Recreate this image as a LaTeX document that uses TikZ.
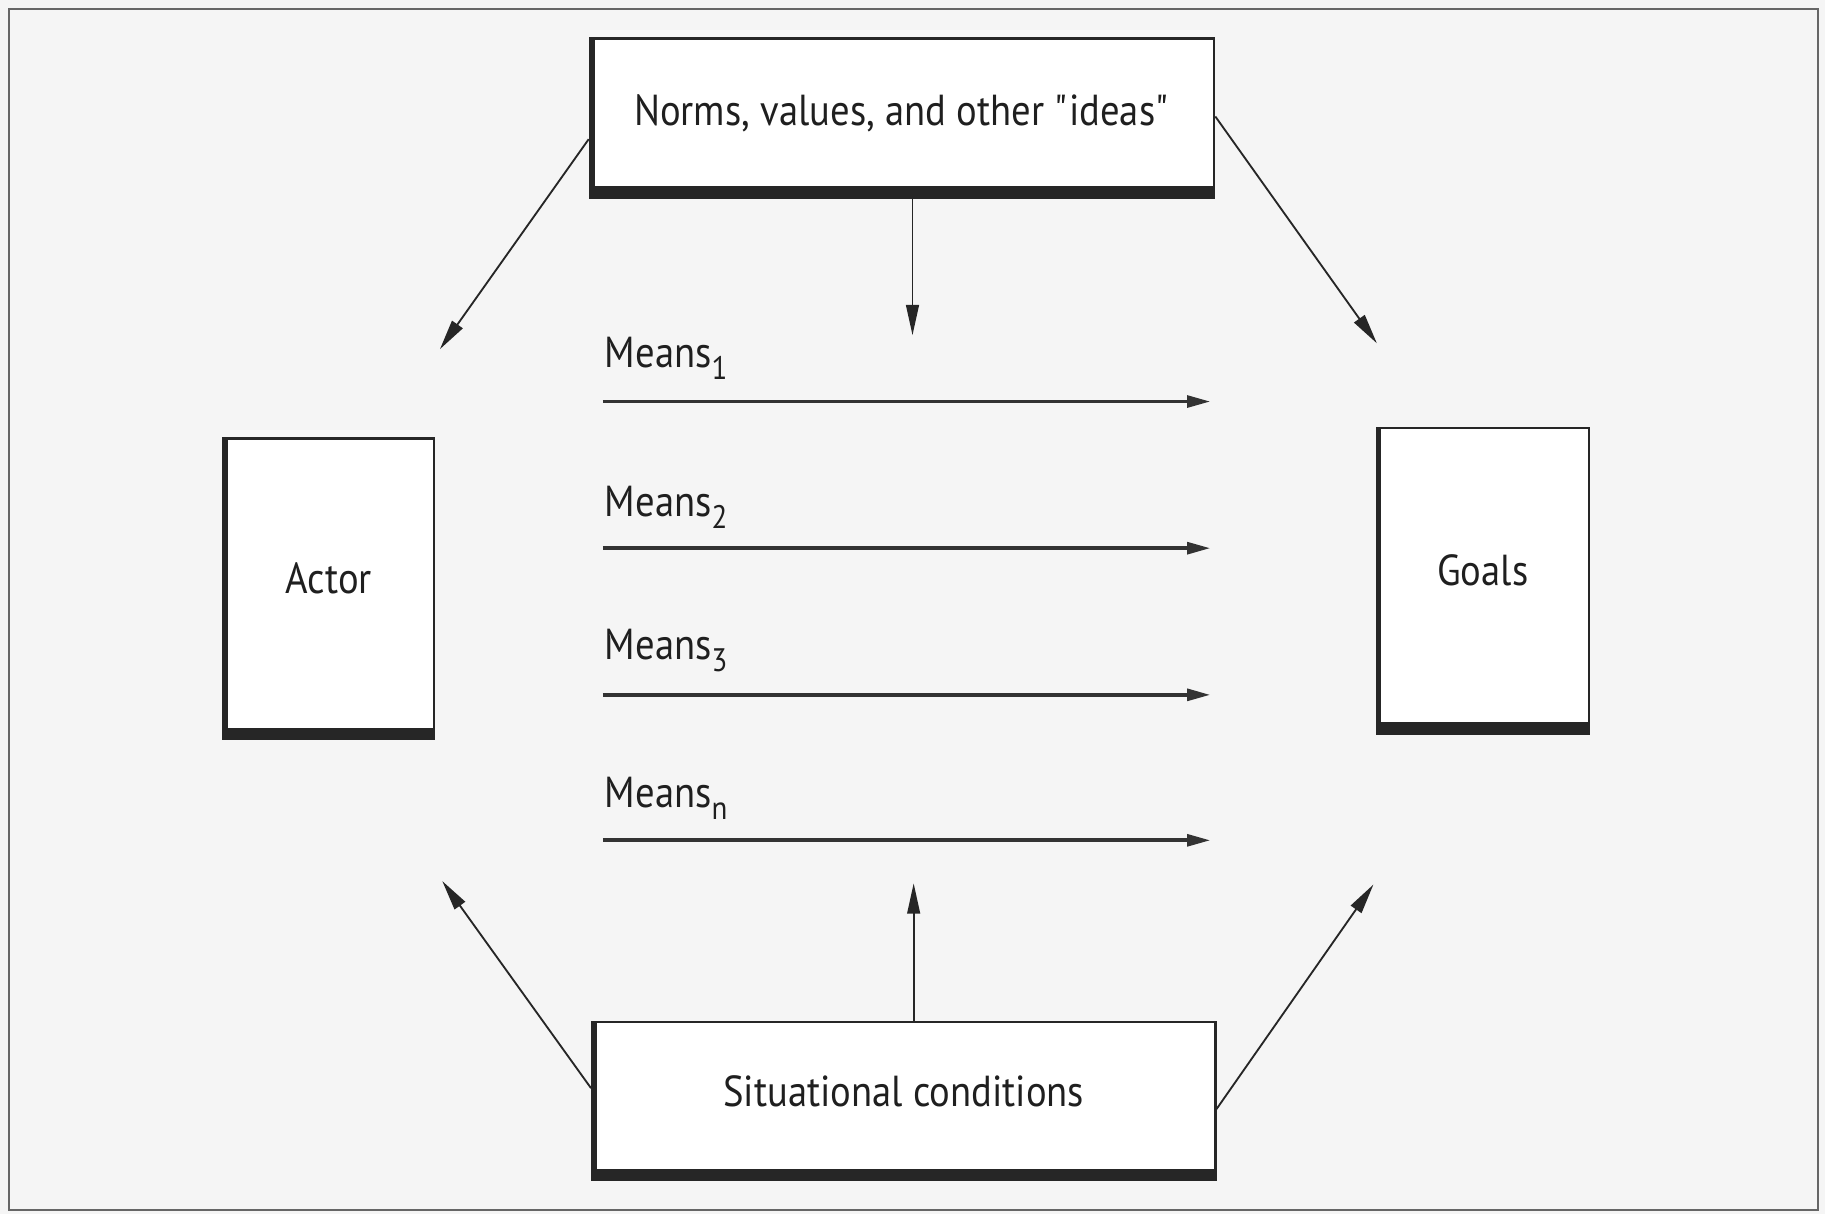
\documentclass[tikz,border=0pt]{standalone}
\usepackage{fontspec}
\setmainfont{PT Sans}[FakeStretch=0.89]
\usetikzlibrary{arrows.meta,calc}
\newcommand\msub[1]{\raisebox{-0.55ex}{\scalebox{0.75}{#1}}}
\newcommand\dq{\XeTeXglyph\XeTeXcharglyph"22\relax}
\begin{document}
\begin{tikzpicture}[x=0.01cm,y=-0.01cm,
  box/.style={draw=black!85, line width=0.6pt, fill=white, inner sep=0pt},
  lbl/.style={font=\fontsize{10.6}{12}\selectfont, text=black!88, inner sep=0pt},
  con/.style={draw=black!85, line width=0.45pt, -{Triangle[length=2.6mm,width=1.1mm]}},
  meanarr/.style={draw=black!80, line width=0.9pt, -{Triangle[length=2mm,width=1mm]}},
  shade/.style={fill=black!85}]
\fill[black!4] (0,0) rectangle (1568,1043);
\useasboundingbox (0,0) rectangle (1568,1043);
\draw[black!60, line width=0.5pt] (8,8) rectangle (1562,1040);

% boxes
\node[box, minimum width=5.36cm, minimum height=1.37cm,
  label={[lbl,yshift=0.04cm]center:{Norms, values, and other \dq ideas\dq}}] (norms) at (775,101.5) {};
\node[box, minimum width=1.81cm, minimum height=2.58cm,
  label={[lbl,yshift=0.09cm]center:{Actor}}] (actor) at (282.5,506) {};
\node[box, minimum width=1.82cm, minimum height=2.62cm,
  label={[lbl,yshift=0.09cm]center:{Goals}}] (goals) at (1274,499) {};
\node[box, minimum width=5.35cm, minimum height=1.36cm,
  label={[lbl,yshift=0.08cm]center:{Situational conditions}}] (sit) at (776.5,946) {};

\foreach \n in {norms,actor,goals,sit}{
  \fill[shade] (\n.south west) rectangle ($(\n.north west)+(5,0)$);
  \fill[shade] (\n.south west) rectangle ($(\n.south east)+(0,-11)$);
}

% means labels
\node[lbl, anchor=base west] (m1) at (519,316) {Means\msub{1}};
\node[lbl, anchor=base west] (m2) at (519,444) {Means\msub{2}};
\node[lbl, anchor=base west] (m3) at (519,567) {Means\msub{3}};
\node[lbl, anchor=base west] (mn) at (519,694) {Means\msub{n}};

% means arrows
\coordinate (a1s) at (518,345); \coordinate (a1e) at (1040,345);
\coordinate (a2s) at (518,471); \coordinate (a2e) at (1040,471);
\coordinate (a3s) at (518,597); \coordinate (a3e) at (1040,597);
\coordinate (ans) at (518,722); \coordinate (ane) at (1040,722);
\draw[meanarr] (a1s) -- (a1e);
\draw[meanarr] (a2s) -- (a2e);
\draw[meanarr] (a3s) -- (a3e);
\draw[meanarr] (ans) -- (ane);

% connectors
\coordinate (tnl) at (378,300);
\coordinate (tnr) at (1183,295);
\coordinate (tdown) at (784,288);
\coordinate (tsl) at (380,757);
\coordinate (tsr) at (1180,760);
\coordinate (tup) at (785,759);
\draw[con] ($(norms.north west)!0.63!(norms.south west)$) -- (tnl);
\draw[con] ($(norms.north east)!0.49!(norms.south east)$) -- (tnr);
\draw[con] (tdown |- norms.south) -- (tdown);
\draw[con] ($(sit.north west)!0.42!(sit.south west)$) -- (tsl);
\draw[con] ($(sit.north east)!0.55!(sit.south east)$) -- (tsr);
\draw[con] (tup |- sit.north) -- (tup);
\end{tikzpicture}
\end{document}
